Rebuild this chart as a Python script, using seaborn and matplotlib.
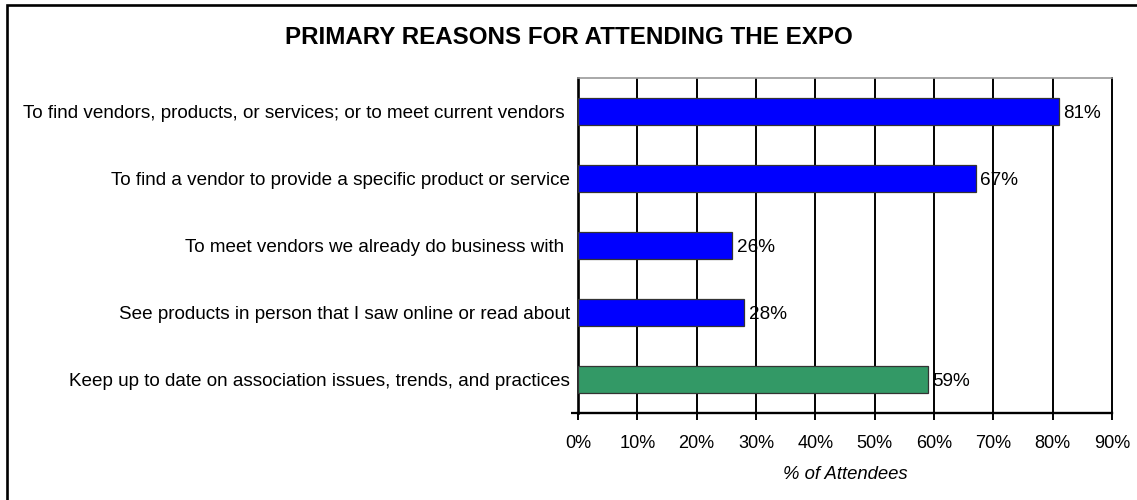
import matplotlib
matplotlib.use("Agg")
import matplotlib.pyplot as plt
from matplotlib.patches import Rectangle
from matplotlib.ticker import FixedLocator, FuncFormatter
import seaborn as sns
import pandas as pd

# Survey responses
reasons = [
    "To find vendors, products, or services; or to meet current vendors ",
    "To find a vendor to provide a specific product or service",
    "To meet vendors we already do business with ",
    "See products in person that I saw online or read about",
    "Keep up to date on association issues, trends, and practices",
]
percents = [81, 67, 26, 28, 59]
groups = ["vendor", "vendor", "vendor", "vendor", "association"]
group_colors = {"vendor": "#0000FF", "association": "#339966"}
x_ticks = [0, 10, 20, 30, 40, 50, 60, 70, 80, 90]

sns.set_theme(style="white")
plt.rcParams["font.family"] = ["Liberation Sans", "DejaVu Sans"]
plt.rcParams["text.color"] = "black"
plt.rcParams["xtick.color"] = "black"
plt.rcParams["ytick.color"] = "black"
plt.rcParams["axes.labelcolor"] = "black"

FS = 13.6

df = pd.DataFrame({"reason": reasons, "pct": percents, "group": groups})

fig = plt.figure(figsize=(11.37, 5.0), dpi=100)
ax = fig.add_axes([578 / 1137, 1 - 413 / 500, (1112 - 578) / 1137, (413 - 78) / 500])

sns.barplot(
    data=df, x="pct", y="reason", hue="group", palette=group_colors,
    orient="h", width=0.4, dodge=False, legend=False, saturation=1,
    edgecolor="#333333", linewidth=0.9, ax=ax, zorder=3,
)

ax.set_xlim(0, 90)
ax.set_ylim(len(reasons) - 0.5, -0.5)

# vertical gridlines
ax.xaxis.set_major_locator(FixedLocator(x_ticks))
ax.xaxis.set_major_formatter(FuncFormatter(lambda v, p: f"{v:.0f}%"))
for v in x_ticks[1:-1]:
    ax.axvline(v, color="black", linewidth=1.4, zorder=1)

ax.tick_params(axis="x", direction="out", length=5, width=1.4,
               labelsize=13.1, pad=11, bottom=True)
ax.tick_params(axis="y", which="major", length=0, labelsize=FS, pad=6)
ax.yaxis.set_minor_locator(FixedLocator([len(reasons) - 0.5]))
ax.tick_params(axis="y", which="minor", direction="out", length=5, width=1.6,
               left=True)

for side, lw in [("left", 1.9), ("bottom", 1.7), ("right", 1.4)]:
    ax.spines[side].set_color("black")
    ax.spines[side].set_linewidth(lw)
ax.spines["top"].set_color("#999999")
ax.spines["top"].set_linewidth(1.2)

ax.set_ylabel("")
ax.set_xlabel("% of Attendees", fontsize=13.3, style="italic", labelpad=10)

for i, v in enumerate(percents):
    ax.text(v + 0.75, i, f"{v}%", va="center_baseline", ha="left",
            fontsize=FS, zorder=4)

fig.text(0.5, 1 - 37 / 500, "PRIMARY REASONS FOR ATTENDING THE EXPO",
         ha="center", va="center", fontsize=17.4, fontweight="bold")

# outer frame
fig.patches.append(Rectangle((7 / 1137, -0.1), 1.2, 1 - 5 / 500 + 0.1,
                             transform=fig.transFigure, fill=False,
                             edgecolor="black", linewidth=1.9))

fig.savefig("out.png", dpi=100, facecolor="white")
